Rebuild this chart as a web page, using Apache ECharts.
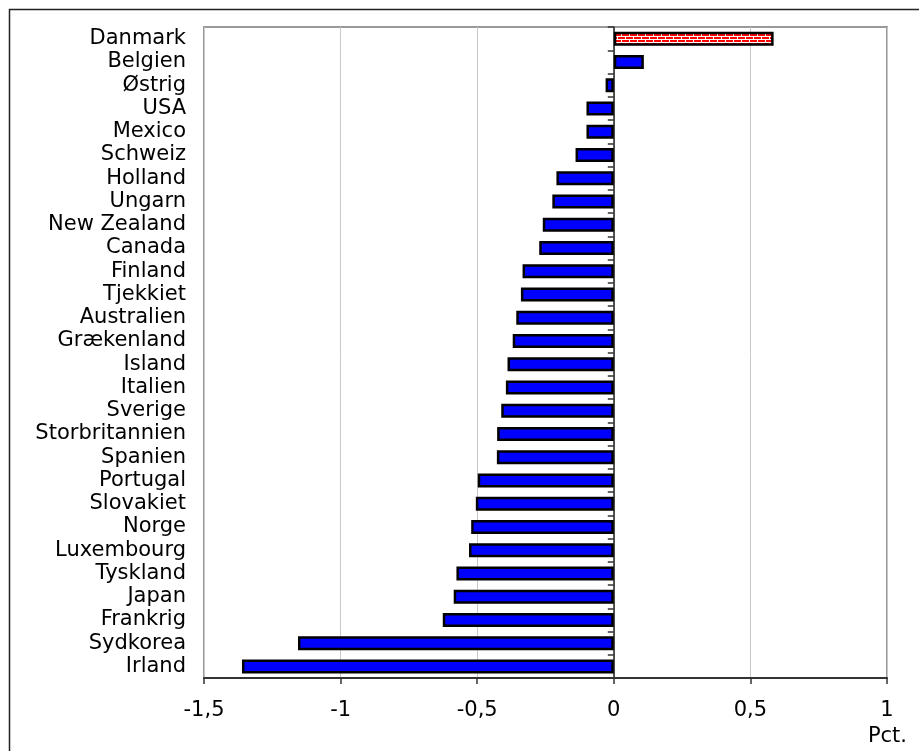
<!DOCTYPE html>
<html>
<head>
<meta charset="utf-8">
<script src="https://cdn.jsdelivr.net/npm/echarts@6/dist/echarts.min.js"></script>
<style>
html,body{margin:0;padding:0;background:#fff;}
#chart{width:919px;height:751px;}
</style>
</head>
<body>
<div id="chart"></div>
<script>
const categories = ['Danmark','Belgien','Østrig','USA','Mexico','Schweiz','Holland','Ungarn','New Zealand','Canada','Finland','Tjekkiet','Australien','Grækenland','Island','Italien','Sverige','Storbritannien','Spanien','Portugal','Slovakiet','Norge','Luxembourg','Tyskland','Japan','Frankrig','Sydkorea','Irland'];
const values = [0.585,0.11,-0.03,-0.10,-0.10,-0.14,-0.21,-0.225,-0.26,-0.273,-0.334,-0.34,-0.357,-0.37,-0.389,-0.395,-0.412,-0.427,-0.428,-0.498,-0.505,-0.522,-0.53,-0.576,-0.586,-0.626,-1.156,-1.361];
const xTicks = {min:-1.5, max:1, step:0.5};
const unitLabel = 'Pct.';
const highlight = 'Danmark';

// brick pattern for highlighted bar
const pc = document.createElement('canvas');
pc.width = 8; pc.height = 6;
const g = pc.getContext('2d');
g.fillStyle = '#ff0000'; g.fillRect(0,0,8,6);
g.fillStyle = '#ffffff';
g.fillRect(0,0,8,1);
g.fillRect(0,3,8,1);
g.fillRect(1,1,1,2);
g.fillRect(5,4,1,2);

const FONT = 'DejaVu Sans';
const FS = 21;
const chart = echarts.init(document.getElementById('chart'));
chart.setOption({
  animation:false,
  textStyle:{fontFamily:FONT},
  grid:{left:204,right:32,top:27,bottom:73,show:true,borderColor:'#999',borderWidth:2,containLabel:false},
  xAxis:{
    type:'value', min:xTicks.min, max:xTicks.max, interval:xTicks.step,
    axisLine:{show:true,onZero:false,lineStyle:{color:'#333',width:2}},
    axisTick:{show:true,length:6,lineStyle:{color:'#333',width:1.5}},
    axisLabel:{color:'#000',fontSize:FS,fontFamily:FONT,margin:22,
      formatter:v=>String(v).replace('.',',')},
    splitLine:{show:true,lineStyle:{color:'#c8c8c8',width:1}}
  },
  yAxis:[
    {type:'category',data:categories,inverse:true,
      axisLine:{show:false,onZero:false},axisTick:{show:false},
      axisLabel:{color:'#000',fontSize:FS,fontFamily:FONT,margin:18,interval:0}},
    {type:'category',data:categories,inverse:true,position:'left',
      axisLine:{show:true,onZero:true,lineStyle:{color:'#222',width:1.5}},
      axisTick:{show:true,length:6,interval:0,lineStyle:{color:'#333',width:1.5}},
      axisLabel:{show:false},splitLine:{show:false}}
  ],
  series:[{
    type:'bar',yAxisIndex:0,barWidth:14,
    data:values.map((v,i)=>categories[i]===highlight
      ? {value:v,itemStyle:{color:{image:pc,repeat:'repeat'}}}
      : v),
    itemStyle:{color:'#0000ff',borderColor:'#000',borderWidth:2.5}
  }],
  graphic:[
    {type:'rect',shape:{x:9.5,y:9.5,width:930,height:760},style:{fill:null,stroke:'#222',lineWidth:1.5},silent:true,z:-1},
    {type:'text',right:12,top:726,style:{text:unitLabel,fontSize:FS,fontFamily:FONT,fill:'#000'}}
  ]
});
</script>
</body>
</html>
